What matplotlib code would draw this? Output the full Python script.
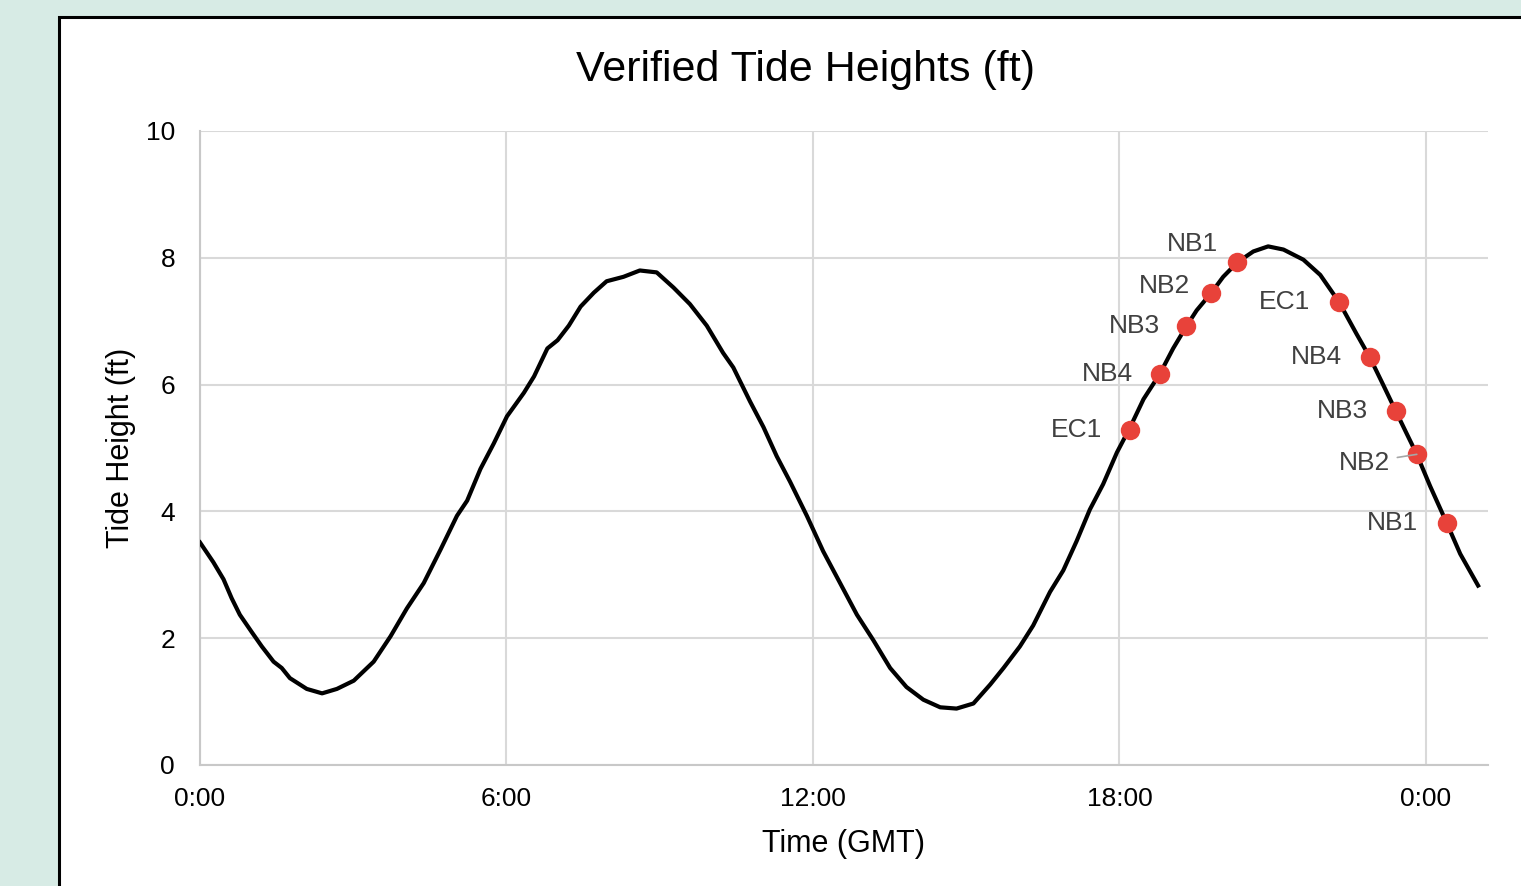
import matplotlib
matplotlib.use("Agg")
import matplotlib.pyplot as plt
from matplotlib.patches import Rectangle

# Verified tide heights (hours since 0:00 GMT, feet)
hours = [0.0, 0.26, 0.46, 0.62, 0.78, 1.01, 1.21, 1.44, 1.60, 1.76, 2.09, 2.39,
         2.68, 3.01, 3.40, 3.73, 4.05, 4.38, 4.71, 5.03, 5.23, 5.49, 5.75, 6.01,
         6.34, 6.54, 6.80, 7.00, 7.22, 7.45, 7.71, 7.96, 8.29, 8.61, 8.94, 9.27,
         9.59, 9.92, 10.24, 10.44, 10.77, 11.03, 11.29, 11.55, 11.88, 12.20, 12.53,
         12.86, 13.18, 13.51, 13.83, 14.16, 14.49, 14.81, 15.14, 15.47, 15.73,
         16.05, 16.31, 16.64, 16.90, 17.16, 17.42, 17.68, 17.95, 18.21, 18.47,
         18.79, 19.05, 19.31, 19.51, 19.80, 20.03, 20.31, 20.62, 20.91, 21.21,
         21.60, 21.93, 22.30, 22.64, 22.90, 23.16, 23.41, 23.62, 23.82, 24.08,
         24.41, 24.67, 25.02]
heights = [3.51, 3.20, 2.93, 2.63, 2.37, 2.10, 1.87, 1.63, 1.53, 1.37, 1.20, 1.13,
           1.20, 1.33, 1.63, 2.03, 2.47, 2.87, 3.40, 3.93, 4.17, 4.67, 5.07, 5.50,
           5.87, 6.13, 6.57, 6.70, 6.93, 7.23, 7.45, 7.63, 7.70, 7.80, 7.77, 7.53,
           7.27, 6.93, 6.50, 6.27, 5.73, 5.33, 4.87, 4.47, 3.93, 3.37, 2.87,
           2.37, 1.97, 1.53, 1.23, 1.03, 0.91, 0.89, 0.97, 1.27, 1.53,
           1.87, 2.20, 2.73, 3.07, 3.53, 4.03, 4.43, 4.93, 5.33, 5.77,
           6.17, 6.57, 6.92, 7.17, 7.45, 7.70, 7.93, 8.10, 8.18, 8.13,
           7.97, 7.73, 7.30, 6.80, 6.43, 6.00, 5.58, 5.23, 4.90, 4.40,
           3.81, 3.33, 2.83]

# Sample stations
station_names = ["EC1", "NB4", "NB3", "NB2", "NB1",
                 "EC1", "NB4", "NB3", "NB2", "NB1"]
station_hours = [18.21, 18.79, 19.31, 19.80, 20.31,
                 22.30, 22.90, 23.41, 23.82, 24.41]
station_heights = [5.28, 6.17, 6.92, 7.45, 7.93,
                   7.30, 6.43, 5.58, 4.90, 3.81]
# label offsets in points (style only)
label_offsets = [(-20, 0), (-19, 0), (-19, 0), (-15, 5), (-14, 13),
                 (-21, 0), (-20, 0), (-20, 0), (-19, -6), (-21, 0)]

tick_hours = [0, 6, 12, 18, 24]
tick_labels = ["0:00", "6:00", "12:00", "18:00", "0:00"]

plt.rcParams['font.family'] = ['Liberation Sans', 'DejaVu Sans']

fig = plt.figure(figsize=(15.21, 8.86), dpi=100)
fig.patch.set_facecolor('#d7ebe5')

# white chart card with black border
card = Rectangle((59/1521, -0.1), 1.2, 1.1 - 17/886, transform=fig.transFigure,
                 facecolor='white', edgecolor='black', linewidth=2.2, zorder=-10)
fig.patches.append(card)

ax = fig.add_axes([200/1521, 1 - 765/886, 1288/1521, 634/886])
ax.set_facecolor('white')
ax.set_zorder(1)

ax.plot(hours, heights, color='black', linewidth=3.0, zorder=3)
ax.plot(station_hours, station_heights, 'o', color='#e8423a', markersize=14,
        markeredgewidth=0, zorder=4)

for i, name in enumerate(station_names):
    arrow = None
    if i == 8:
        arrow = dict(arrowstyle='-', color='#a6a6a6', lw=1.2, shrinkA=3, shrinkB=0)
    ax.annotate(name, (station_hours[i], station_heights[i]),
                xytext=label_offsets[i], textcoords='offset points',
                ha='right', va='center', fontsize=19, color='#404040',
                arrowprops=arrow, zorder=5)

ax.set_xlim(0, 1288/51.083)
ax.set_ylim(0, 10)
ax.set_xticks(tick_hours)
ax.set_xticklabels(tick_labels)
ax.set_yticks([0, 2, 4, 6, 8, 10])
ax.tick_params(axis='both', length=0, labelsize=19, colors='black')
ax.tick_params(axis='x', pad=16)
ax.tick_params(axis='y', pad=18)
ax.grid(True, color='#d9d9d9', linewidth=1.5, zorder=0)
ax.set_axisbelow(True)
for side in ['top', 'right']:
    ax.spines[side].set_visible(False)
for side in ['left', 'bottom']:
    ax.spines[side].set_color('#c8c8c8')
    ax.spines[side].set_linewidth(1.5)

ax.set_xlabel("Time (GMT)", fontsize=22, labelpad=13)
ax.set_ylabel("Tide Height (ft)", fontsize=22, labelpad=7)
fig.text(805/1521, 1 - 70/886, "Verified Tide Heights (ft)", fontsize=31,
         ha='center', va='center')

fig.savefig("out.png", dpi=100, facecolor=fig.get_facecolor())
